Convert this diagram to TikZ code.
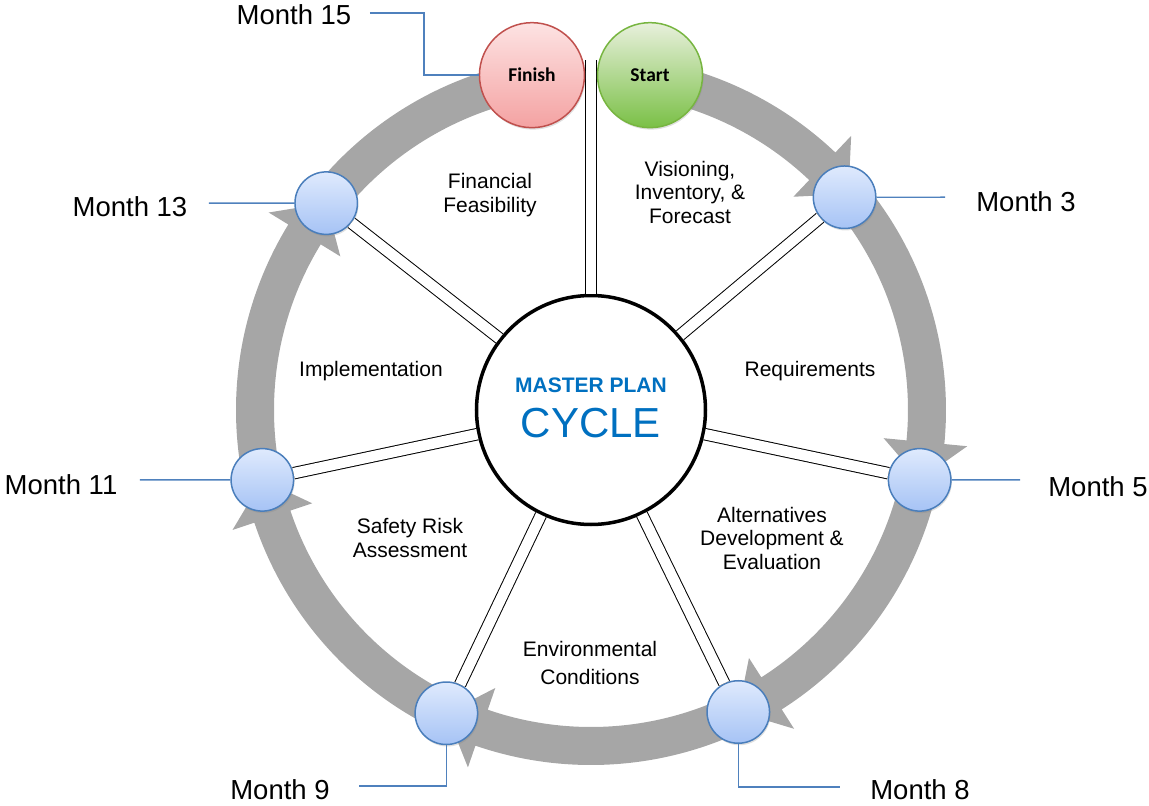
\documentclass[tikz,border=0pt]{standalone}
\usepackage{fontspec}
\setmainfont{Liberation Sans}
\newfontfamily\calibri{Carlito}
\usetikzlibrary{shadows}
\definecolor{ringGray}{HTML}{A6A6A6}
\definecolor{monthTop}{HTML}{DFEAFD}
\definecolor{monthBottom}{HTML}{A6C3F5}
\definecolor{monthLine}{HTML}{4A7EBB}
\definecolor{finishTop}{HTML}{FDE3E3}
\definecolor{finishBottom}{HTML}{F4A2A2}
\definecolor{finishLine}{HTML}{C0504D}
\definecolor{startTop}{HTML}{E8F0DC}
\definecolor{startBottom}{HTML}{7AC046}
\definecolor{startLine}{HTML}{77B540}
\definecolor{leaderBlue}{HTML}{4F81BD}
\definecolor{planBlue}{HTML}{0070C0}
\begin{document}
\begin{tikzpicture}
[x=1pt,y=1pt,
  ringDecorate/.style={fill=ringGray},%
  monthDecorate/.style={shape=circle,minimum size=62.5pt,inner sep=0pt,draw=monthLine,line width=1.5pt,%
    top color=monthTop,bottom color=monthBottom,drop shadow={opacity=0.25,shadow xshift=1pt,shadow yshift=-2pt}},%
  endDecorate/.style={shape=circle,minimum size=105pt,inner sep=0pt,line width=1.5pt,%
    font=\calibri\bfseries\fontsize{19.5}{22}\selectfont,drop shadow={opacity=0.25,shadow xshift=1pt,shadow yshift=-2pt}},%
  hubDecorate/.style={shape=circle,minimum size=229pt,inner sep=0pt,draw,line width=3.5pt,fill=white},%
  spokeDecorate/.style={draw=black,line width=1pt,double=white,double distance=10.5pt},%
  leaderDecorate/.style={draw=leaderBlue,line width=1.4pt},%
  monthLabel/.style={font=\fontsize{27.5}{32}\selectfont},%
  stageLabel/.style={align=center,font=\fontsize{21}{23.5}\selectfont}]
\useasboundingbox (-591,-396) rectangle (558,410);
%% grey ring, one arrow per stage
\foreach \a/\b in {80/40, 40/-12, -12/-64, -64/-115.5, -115.5/-168, -168/-218}
{
  \fill[ringDecorate] (\a:317) arc[start angle=\a, end angle=\b+6.5, radius=317]
    -- (\b+6.5:294) -- (\b:336) -- (\b+6.5:378) -- (\b+6.5:355)
    arc[start angle=\b+6.5, end angle=\a, radius=355] -- cycle;
}
\fill[ringDecorate] (-218:317) arc[start angle=-218, end angle=-260, radius=317]
  -- (-260:355) arc[start angle=-260, end angle=-218, radius=355] -- cycle;
%% hub
\node (hub) at (0,0) [hubDecorate] {};
\node (hubTitle) at (0,24.5) [text=planBlue,font=\bfseries\fontsize{21}{25}\selectfont] {MASTER PLAN};
\node (hubCycle) at (0,-13) [text=planBlue,font=\fontsize{42}{48}\selectfont] {CYCLE};
%% month nodes
\foreach \nodename/\angle/\radius in {
  m3/40/331, m5/-12/336, m8/-64/336, m9/-115.5/336, m11/192/336, m13/142/336}
{
  \node (\nodename) at (\angle:\radius) [monthDecorate] {};
}
\coordinate (topEnd) at (90:350);
%% spokes
\path
\foreach \endnode in {m3, m5, m8, m9, m11, m13, topEnd}
{
  (hub) edge[spokeDecorate] (\endnode)
};
\node (finish) at (100:340) [endDecorate,draw=finishLine,top color=finishTop,bottom color=finishBottom] {Finish};
\node (start) at (80:340) [endDecorate,draw=startLine,top color=startTop,bottom color=startBottom] {Start};
%% stage texts
\foreach \nodename/\x/\y/\text in {
  s1/99/218/{Visioning,\\Inventory, \&\\Forecast}, s2/219/39/{Requirements},
  s3/181/-128/{Alternatives\\Development \&\\Evaluation}, s4/-1/-253/{Environmental\\[5pt]Conditions},
  s5/-181/-128/{Safety Risk\\Assessment}, s6/-220/39/{Implementation},
  s7/-101/215/{Financial\\Feasibility}}
{
  \node (\nodename) at (\x,\y) [stageLabel] {\text};
}
%% month texts and leaders
\foreach \nodename/\x/\y/\text in {
  l3/435/208/{Month 3}, l5/507/-77/{Month 5}, l8/329/-380/{Month 8}, l9/-311/-380/{Month 9},
  l11/-530/-75/{Month 11}, l13/-461/203/{Month 13}, l15/-297/395/{Month 15}}
{
  \node (\nodename) at (\x,\y) [monthLabel] {\text};
}
\coordinate (c3) at (354,212.8);
\coordinate (c5) at (429,-69.9);
\coordinate (c8) at (249,-377);
\coordinate (c9) at (-232,-376);
\coordinate (c11) at (-451,-69.9);
\coordinate (c13) at (-382,206.9);
\coordinate (c15) at (-221,397);
\draw[leaderDecorate] (m3.east) -- (c3);
\draw[leaderDecorate] (m5.east) -- (c5);
\draw[leaderDecorate] (m8.south) |- (c8);
\draw[leaderDecorate] (m9.south) |- (c9);
\draw[leaderDecorate] (m11.west) -- (c11);
\draw[leaderDecorate] (m13.west) -- (c13);
\draw[leaderDecorate] (c15) -- (-167,397) |- (finish.west);
\end{tikzpicture}
\end{document}
